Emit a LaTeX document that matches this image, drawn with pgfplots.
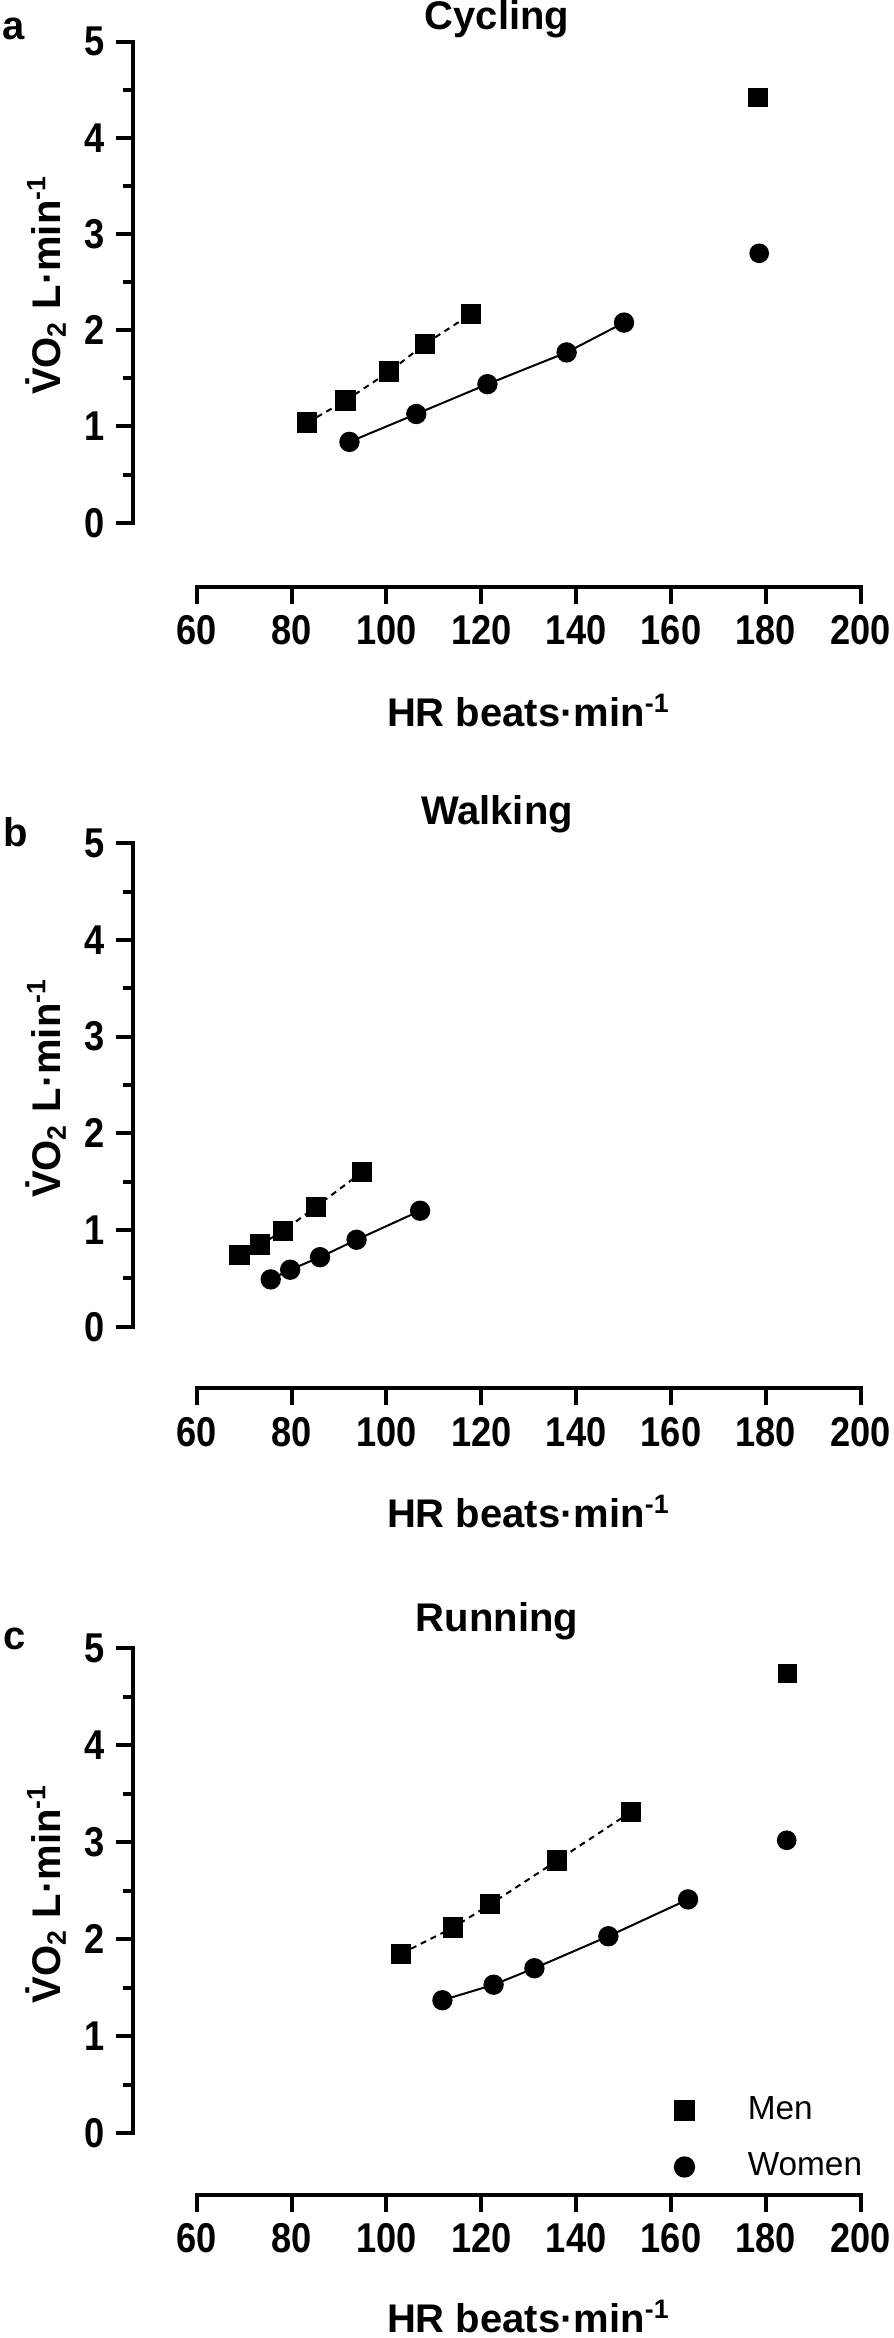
\documentclass[border=0pt]{standalone}
\usepackage{fontspec}
\setmainfont{Liberation Sans}
\newfontfamily\narrowfont{Liberation Sans}[FakeStretch=0.87]
\usepackage{pgfplots}
\pgfplotsset{compat=1.18}

\pgfplotsset{
  panel/.style={
    scale only axis, width=218.2pt,
    xmin=46.63, xmax=200, ymax=5,
    anchor=south west, clip=false,
    axis lines=left, axis line style={draw=none},
    tick align=outside,
    xtick={60,80,...,200}, ytick={0,1,...,5},
    minor ytick={0.5,1.5,...,4.5},
    major tick length=5.1pt, minor tick length=3pt,
    tick style={black, line width=1.2pt},
    tick label style={font=\narrowfont\bfseries\fontsize{12.5}{14}\selectfont},
    /pgf/number format/assume math mode=true,
  },
  men/.style={black, line width=0.6pt, dash pattern=on 1.8pt off 1.5pt,
    mark=square*, mark size=2.75pt, mark options={solid}},
  women/.style={black, line width=0.6pt, mark=*, mark size=2.75pt},
  peakm/.style={only marks, mark=square*, mark size=2.75pt, black},
  peakw/.style={only marks, mark=*, mark size=2.75pt, black},
}

\newcommand{\ylab}{\.{V}O\textsubscript{2} L·min\textsuperscript{-1}}
\newcommand{\xlab}{HR beats·min\textsuperscript{-1}}

\begin{document}
\begin{tikzpicture}
\useasboundingbox (0,0) rectangle (267.9pt,701.4pt);

% a: Cycling
\begin{axis}[panel, at={(40pt,525.39pt)}, height=163.5pt, ymin=-0.665]
  \draw[line width=1.2pt, line cap=rect] (axis cs:46.63,0) -- (axis cs:46.63,5);
  \draw[line width=1.2pt, line cap=rect] (axis cs:60,-0.665) -- (axis cs:200,-0.665);
  \addplot[men] coordinates {(83.3,1.04) (91.4,1.27) (100.6,1.57) (108.2,1.86) (117.9,2.17)};
  \addplot[women] coordinates {(92.2,0.84) (106.3,1.13) (121.3,1.44) (138.0,1.77) (150.1,2.08)};
  \addplot[peakm] coordinates {(178.3,4.42)};
  \addplot[peakw] coordinates {(178.6,2.80)};
\end{axis}

% b: Walking
\begin{axis}[panel, at={(40pt,284.91pt)}, height=163.5pt, ymin=-0.636]
  \draw[line width=1.2pt, line cap=rect] (axis cs:46.63,0) -- (axis cs:46.63,5);
  \draw[line width=1.2pt, line cap=rect] (axis cs:60,-0.636) -- (axis cs:200,-0.636);
  \addplot[men] coordinates {(69.0,0.74) (73.4,0.85) (78.2,0.99) (85.1,1.24) (94.9,1.60)};
  \addplot[women] coordinates {(75.6,0.49) (79.7,0.59) (86.0,0.72) (93.7,0.90) (107.1,1.20)};
\end{axis}

% c: Running
\begin{axis}[panel, at={(40pt,42.99pt)}, height=163.9pt, ymin=-0.636,
  legend style={draw=none, fill=none, inner sep=0pt, row sep=4.5pt,
    font=\fontsize{10}{12}\selectfont,
    /tikz/every odd column/.append style={column sep=14pt},
    at={(axis cs:160.6,-0.06)}, anchor=west},
  legend cell align=left]
  \draw[line width=1.2pt, line cap=rect] (axis cs:46.63,0) -- (axis cs:46.63,5);
  \draw[line width=1.2pt, line cap=rect] (axis cs:60,-0.636) -- (axis cs:200,-0.636);
  \addplot[men, forget plot] coordinates {(103.1,1.85) (114.1,2.12) (121.9,2.36) (136.0,2.81) (151.5,3.31)};
  \addplot[women, forget plot] coordinates {(111.8,1.37) (122.6,1.53) (131.2,1.70) (146.8,2.03) (163.6,2.41)};
  \addplot[peakm, forget plot] coordinates {(184.6,4.74)};
  \addplot[peakw, forget plot] coordinates {(184.4,3.02)};
  \addlegendimage{only marks, mark=square*, mark size=3pt, black}
  \addlegendentry{Men}
  \addlegendimage{only marks, mark=*, mark size=3pt, black}
  \addlegendentry{Women}
\end{axis}

% titles, panel letters, axis titles
\begin{scope}[every node/.style={font=\bfseries\fontsize{12}{14}\selectfont, inner sep=0pt}]
  \node[anchor=base] at (149.1pt,692.4pt) {Cycling};
  \node[anchor=base] at (149.1pt,453.9pt) {Walking};
  \node[anchor=base] at (149.1pt,211.8pt) {Running};
  \node[anchor=base west] at (0.6pt,689.4pt) {a};
  \node[anchor=base west] at (0.9pt,447.4pt) {b};
  \node[anchor=base west] at (0.9pt,206.4pt) {c};
  \node[anchor=base, rotate=90] at (18pt,615.9pt) {\ylab};
  \node[anchor=base, rotate=90] at (18pt,375pt) {\ylab};
  \node[anchor=base, rotate=90] at (18pt,133.3pt) {\ylab};
  \node[anchor=base] at (158.6pt,483.4pt) {\xlab};
  \node[anchor=base] at (158.6pt,243pt) {\xlab};
  \node[anchor=base] at (158.6pt,1.6pt) {\xlab};
\end{scope}
\end{tikzpicture}
\end{document}
